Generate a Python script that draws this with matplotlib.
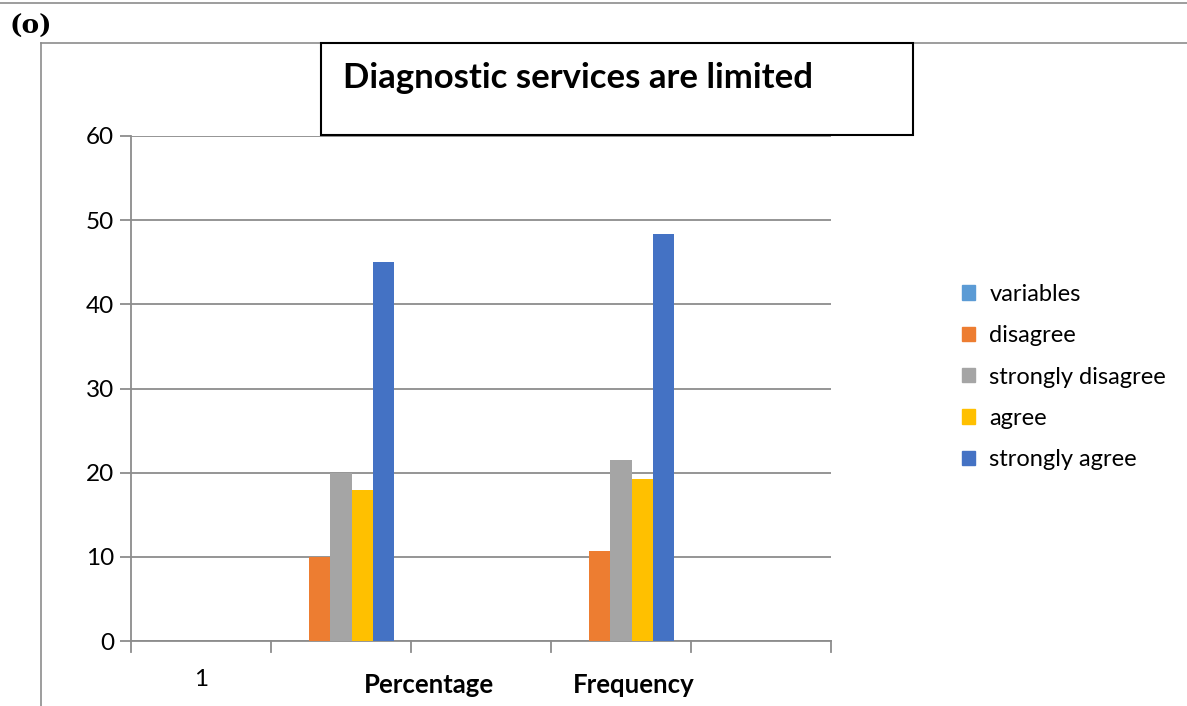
import matplotlib
matplotlib.use("Agg")
import matplotlib.pyplot as plt
from matplotlib.lines import Line2D
from matplotlib.patches import Rectangle
import numpy as np

# ---- data ----
categories = ["1", "", "", "", ""]
series_names = ["variables", "disagree", "strongly disagree", "agree", "strongly agree"]
variables = [0, 0, 0, 0, 0]
disagree = [0, 10, 0, 10.7, 0]
strongly_disagree = [0, 20, 0, 21.5, 0]
agree = [0, 18, 0, 19.3, 0]
strongly_agree = [0, 45, 0, 48.4, 0]
group_labels = ["Percentage", "Frequency"]
title = "Diagnostic services are limited"
panel_label = "(o)"
yticks = [0, 10, 20, 30, 40, 50, 60]

colors = ["#5B9BD5", "#ED7D31", "#A5A5A5", "#FFC000", "#4472C4"]
all_series = [variables, disagree, strongly_disagree, agree, strongly_agree]

FONT = "Lato"
W, H = 1187, 706
fig = plt.figure(figsize=(W / 100, H / 100), dpi=100)

def fx(px):
    return px / W

def fy(py):
    return 1 - py / H

# page decorations
grey = "#8c8c8c"
fig.add_artist(Line2D([0, 1], [fy(3), fy(3)], color=grey, lw=1.2))
fig.add_artist(Line2D([fx(41), 1], [fy(43), fy(43)], color=grey, lw=1.2))
fig.add_artist(Line2D([fx(41), fx(41)], [fy(43), 0], color=grey, lw=1.2))
fig.text(fx(9), fy(26), panel_label, fontsize=19, fontweight="bold",
         family="DejaVu Serif", ha="left", va="center")

ax = fig.add_axes([fx(131), fy(641), fx(831) - fx(131), fy(136) - fy(641)])
n = len(all_series)
x = np.arange(len(categories))
bw = 0.152
for i, (vals, c, name) in enumerate(zip(all_series, colors, series_names)):
    ax.bar(x + (i - (n - 1) / 2) * bw, vals, width=bw, color=c, label=name, zorder=3)

ax.set_xlim(-0.5, len(categories) - 0.5)
ax.set_ylim(0, 60)
ax.set_yticks(yticks)
ax.set_yticklabels([str(t) for t in yticks], fontsize=17.5, family=FONT)
ax.yaxis.grid(True, color=grey, lw=1.3, zorder=0)
ax.set_axisbelow(True)
ax.tick_params(axis="y", length=8, color=grey, width=1.3, pad=4)

ax.set_xticks(x)
ax.set_xticklabels(categories, fontsize=17.5, family=FONT)
ax.tick_params(axis="x", length=0, pad=20)
# category boundary ticks
for b in np.arange(-0.5, len(categories), 1.0):
    ax.plot([b, b], [0, -1.3], color=grey, lw=1.3, clip_on=False, zorder=2)

for s in ["top", "right"]:
    ax.spines[s].set_visible(False)
ax.spines["bottom"].set_color(grey)
ax.spines["bottom"].set_linewidth(1.3)
ax.spines["left"].set_color(grey)
ax.spines["left"].set_linewidth(1.3)

# bold group labels
trans = ax.get_xaxis_transform()
for lbl, xpos in zip(group_labels, [1.63, 3.09]):
    ax.text(xpos, (641 - 685) / 505, lbl, transform=trans, ha="center",
            va="center", fontsize=18.5, fontweight="bold", family=FONT)

# title box
fig.add_artist(Rectangle((fx(321), fy(135)), fx(913) - fx(321), fy(43) - fy(135),
                         facecolor="white", edgecolor="black", lw=1.5, zorder=5))
fig.text(fx(343), fy(78), title, fontsize=25, fontweight="bold", family=FONT,
         ha="left", va="center", zorder=6)

# legend
handles = [Rectangle((0, 0), 1, 1, color=c) for c in colors]
leg = fig.legend(handles, series_names, loc="center left",
                 bbox_to_anchor=(fx(941), fy(377)), frameon=False,
                 prop={"family": FONT, "size": 17}, handlelength=0.55,
                 handleheight=0.55, handletextpad=0.6, labelspacing=0.86)

fig.savefig("out.png", dpi=100)
